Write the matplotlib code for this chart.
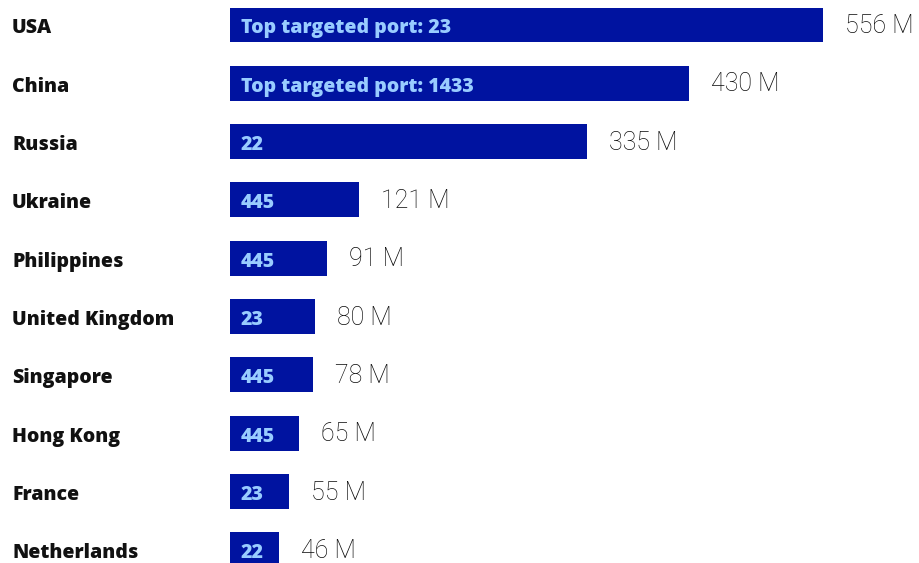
import matplotlib
matplotlib.use("Agg")
import matplotlib.pyplot as plt
from matplotlib import transforms

countries = ["USA", "China", "Russia", "Ukraine", "Philippines", "United Kingdom",
             "Singapore", "Hong Kong", "France", "Netherlands"]
attacks_m = [556, 430, 335, 121, 91, 80, 78, 65, 55, 46]
top_ports = ["Top targeted port: 23", "Top targeted port: 1433", "22", "445", "445",
             "23", "445", "445", "23", "22"]

BAR = "#0013A0"
PORT_TXT = "#99CCFF"

W, H = 919, 563
fig = plt.figure(figsize=(W / 100, H / 100), dpi=100)
ax = fig.add_axes([230 / W, 0, 1 - 230 / W, 1])

px_per_unit = 593 / 556
ax.set_xlim(0, (W - 230) / px_per_unit)
row = 58.33
ax.set_ylim((H - 25) / row, -25 / row)

ypos = list(range(len(countries)))
ax.barh(ypos, attacks_m, height=0.6, color=BAR, edgecolor="none")

dy = 0.06
label_tf = transforms.blended_transform_factory(fig.transFigure, ax.transData)
for y, name, val, port in zip(ypos, countries, attacks_m, top_ports):
    ax.text(12 / W, y + dy, name, transform=label_tf, ha="left", va="center",
            fontsize=14, fontweight="heavy", family="Open Sans", color="#111111")
    ax.text(11 / px_per_unit, y + dy, port, ha="left", va="center",
            fontsize=14, fontweight="heavy", family="Open Sans", color=PORT_TXT)
    ax.text(val + 22 / px_per_unit, y + 0.02, f"{val} M", ha="left", va="center",
            fontsize=18, fontweight="light", family="Roboto", color="#0a0a0a")

ax.axis("off")
fig.savefig("out.png", dpi=100)
